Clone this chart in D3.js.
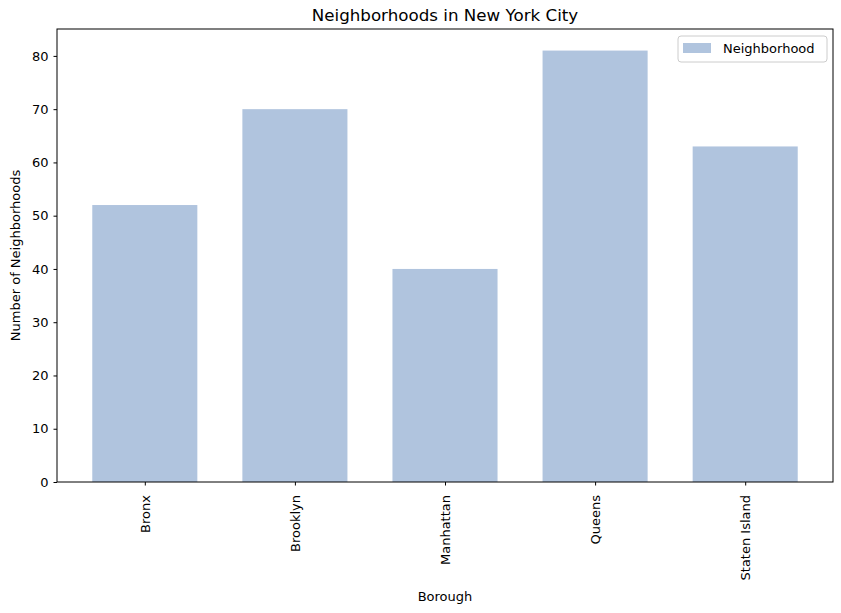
<!DOCTYPE html>
<html><head><meta charset="utf-8">
<script src="https://cdn.jsdelivr.net/npm/d3@7"></script>
<style>body{margin:0;background:#fff}svg{display:block;font-family:"DejaVu Sans",sans-serif}</style>
</head><body>
<script>
const boroughs = ["Bronx", "Brooklyn", "Manhattan", "Queens", "Staten Island"];
const neighborhoodCounts = [52, 70, 40, 81, 63];
const yTicks = [0, 10, 20, 30, 40, 50, 60, 70, 80];
const seriesName = "Neighborhood";

const W = 841, H = 613;
const m = {left: 57, right: 8, top: 29, bottom: 131};
const svg = d3.select("body").append("svg").attr("width", W).attr("height", H);

const x = d3.scaleLinear().domain([-0.585, boroughs.length - 1 + 0.585]).range([m.left, W - m.right]);
const y = d3.scaleLinear().domain([0, 85.05]).range([H - m.bottom, m.top]);
const bw = 0.7;

svg.selectAll("rect.bar").data(boroughs).enter().append("rect")
  .attr("class", "bar")
  .attr("x", (d, i) => x(i - bw / 2))
  .attr("width", (d, i) => x(i + bw / 2) - x(i - bw / 2))
  .attr("y", (d, i) => y(neighborhoodCounts[i]))
  .attr("height", (d, i) => y(0) - y(neighborhoodCounts[i]))
  .attr("fill", "#b0c4de");

const yAxis = svg.append("g").attr("transform", `translate(${m.left},0)`)
  .call(d3.axisLeft(y).tickValues(yTicks).tickSize(3.5).tickPadding(5).tickFormat(d3.format("d")));
const xAxis = svg.append("g").attr("transform", `translate(0,${H - m.bottom})`)
  .call(d3.axisBottom(x).tickValues(d3.range(boroughs.length)).tickSize(3.5).tickPadding(0).tickFormat(i => boroughs[i]));
[yAxis, xAxis].forEach(g => {
  g.select(".domain").remove();
  g.selectAll("text").attr("font-size", 13).attr("fill", "#000").attr("font-family", "DejaVu Sans");
  g.selectAll("line").attr("stroke", "#000");
});
xAxis.selectAll("text")
  .attr("transform", "rotate(-90)")
  .attr("text-anchor", "end")
  .attr("dy", "0.35em")
  .attr("x", -13)
  .attr("y", 0);

svg.append("rect").attr("x", m.left).attr("y", m.top)
  .attr("width", W - m.right - m.left).attr("height", H - m.bottom - m.top)
  .attr("fill", "none").attr("stroke", "#000").attr("stroke-width", 1);

svg.append("text").attr("x", (m.left + W - m.right) / 2).attr("y", 21)
  .attr("text-anchor", "middle").attr("font-size", 16.7).text("Neighborhoods in New York City");
svg.append("text").attr("x", (m.left + W - m.right) / 2).attr("y", 601)
  .attr("text-anchor", "middle").attr("font-size", 13).text("Borough");
svg.append("text").attr("transform", `translate(20,${(m.top + H - m.bottom) / 2}) rotate(-90)`)
  .attr("text-anchor", "middle").attr("font-size", 13).text("Number of Neighborhoods");

const lg = svg.append("g").attr("transform", "translate(678,36)");
lg.append("rect").attr("width", 149).attr("height", 26).attr("rx", 3)
  .attr("fill", "#fff").attr("fill-opacity", 0.8).attr("stroke", "#ccc");
lg.append("rect").attr("x", 5).attr("y", 7).attr("width", 28).attr("height", 10).attr("fill", "#b0c4de");
lg.append("text").attr("x", 45).attr("y", 17).attr("font-size", 13).text(seriesName);
</script>
</body></html>
